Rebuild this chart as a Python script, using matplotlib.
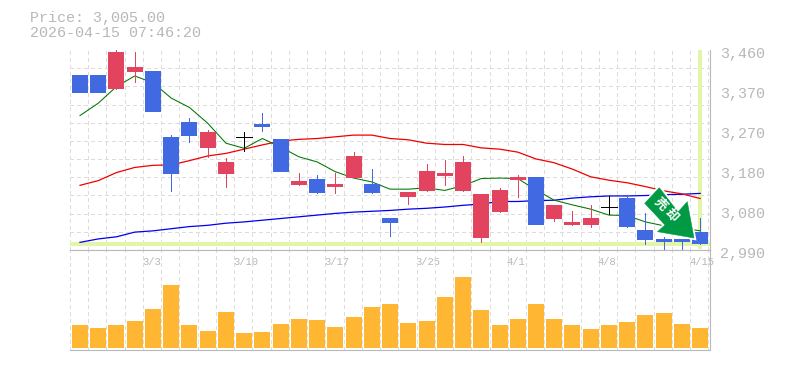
import numpy as np
import matplotlib
matplotlib.use("Agg")
import matplotlib.pyplot as plt
from matplotlib.patches import Polygon
from matplotlib.transforms import ScaledTranslation, IdentityTransform

opens = [3401,3401,3368,3408,3411,3256,3291,3230,3169,3255,3286,3251,3143,3157,3138,3159,3145,3065,3115,3129,3164,3129,3018,3079,3154,3162,3063,3049,3049,3091,3112,3037,3016,3016,3032]
highs = [3401,3401,3460,3455,3411,3260,3300,3272,3206,3267,3312,3251,3171,3166,3171,3220,3180,3065,3126,3192,3202,3211,3122,3136,3166,3162,3096,3082,3096,3117,3117,3077,3021,3016,3065]
lows = [3360,3360,3368,3385,3314,3129,3244,3209,3138,3223,3270,3173,3143,3124,3124,3159,3124,3023,3098,3129,3143,3129,3009,3079,3115,3049,3058,3049,3044,3075,3044,3004,2990,2990,3005]
closes = [3360,3360,3455,3420,3314,3169,3258,3267,3197,3255,3279,3173,3152,3124,3145,3211,3124,3053,3126,3176,3171,3197,3122,3131,3162,3049,3096,3056,3065,3091,3044,3013,3009,3009,3005]
ma_short = [3306,3335,3374,3399,3383,3347,3325,3288,3241,3229,3252,3232,3209,3197,3174,3159,3150,3133,3133,3136,3130,3141,3158,3159,3158,3131,3107,3096,3086,3072,3071,3056,3047,3042,3035]
ma_mid = [3142,3153,3172,3184,3189,3190,3200,3211,3217,3227,3237,3246,3250,3252,3256,3260,3260,3252,3249,3241,3238,3238,3230,3227,3220,3204,3195,3180,3162,3154,3148,3139,3129,3122,3111]
ma_long = [3008,3016,3021,3032,3035,3040,3045,3048,3053,3056,3060,3064,3068,3072,3076,3079,3081,3083,3086,3088,3091,3095,3098,3104,3104,3106,3107,3112,3115,3117,3117,3118,3120,3121,3123]
volumes = [23,20,23,27,39,63,23,17,36,15,16,24,29,28,21,31,41,44,25,27,51,71,38,23,29,44,29,23,19,23,26,33,35,24,20]
date_idx = [4,9,14,19,24,29,34]
date_labels = ["3/3","3/10","3/17","3/25","4/1","4/8","4/15"]
price_ticks = [3460,3366,3272,3178,3084,2990]
price_labels = ["3,460","3,370","3,270","3,180","3,080","2,990"]
current_price = 3005

GRAY = "#b8b8b8"; GRID = "#dddddd"; RED = "#e2445f"; BLUE = "#4169e1"
ORANGE = "#ffb733"; PALE = "#e2f5a8"; ARROW = "#009944"
MONO = ["Liberation Mono", "DejaVu Sans Mono"]

W, H = 785, 370
fig = plt.figure(figsize=(W/100, H/100), dpi=100, facecolor="white")
ax = fig.add_axes([70/W, (H-250)/H, 640/W, 200/H])
av = fig.add_axes([70/W, (H-350)/H, 640/W, 100/H])
xlim = (-0.548, 34.54)
px = 0.72
x = np.arange(len(opens))

for a in (ax, av):
    a.set_xlim(*xlim)
    a.set_facecolor("white")
    for s in a.spines.values():
        s.set_color(GRAY); s.set_linewidth(1.1*px)
    a.spines["left"].set_visible(False)
    a.spines["top"].set_visible(False)
    a.set_xticks(np.arange(36) - 0.548, minor=True)
    a.tick_params(which="both", length=0)
    a.grid(True, which="minor", axis="x", color=GRID, lw=1*px, ls=(0, (3, 3)), antialiased=False, zorder=1)
    a.set_axisbelow(True)
av.spines["top"].set_visible(True)

# price panel
ax.set_ylim(2990, 3460)
ax.set_yticks(np.linspace(2990, 3460, 12), minor=True)
ax.grid(True, which="minor", axis="y", color=GRID, lw=1*px, ls=(0, (3, 3)), antialiased=False, zorder=1)
ax.set_xticks([])
ax.set_xticks(np.arange(36) - 0.548, minor=True)
ax.yaxis.tick_right()
ax.set_yticks(price_ticks, price_labels, fontfamily=MONO, fontsize=10.8, color=GRAY)
ax.tick_params(axis="y", which="major", length=0, pad=7)
ax.tick_params(axis="x", which="both", labelbottom=False, length=0)
shift = ScaledTranslation(0, -2.6/100, fig.dpi_scale_trans)
for lab in ax.get_yticklabels():
    lab.set_transform(lab.get_transform() + shift)

ax.axhline(current_price, color=PALE, lw=4*px, zorder=2, solid_capstyle="butt")
ax.plot([34, 34], [3460, 2993], color=PALE, lw=4*px, zorder=2, solid_capstyle="butt")
ax.plot(x, ma_long, color="#0000ee", lw=1.25*px, zorder=3)
ax.plot(x, ma_mid, color="#ee0000", lw=1.25*px, zorder=3)
ax.plot(x, ma_short, color="#007700", lw=1.05*px, zorder=3)

for i in x:
    o, h, l, c = opens[i], highs[i], lows[i], closes[i]
    col = "black" if o == c else (RED if c > o else BLUE)
    if h > l and (h > max(o, c) or l < min(o, c) or o == c):
        ax.vlines(i, l, h, color=col, lw=1*px, zorder=4, antialiased=False)
    if o == c:
        ax.hlines(o, i-0.44, i+0.44, color=col, lw=1*px, zorder=4, antialiased=False)
    else:
        ax.bar(i, abs(c-o), bottom=min(o, c), width=0.877, color=col, lw=0, zorder=4, antialiased=False)

# signal arrow, placed in pixel coordinates
arrow_px = [(659.3,187.7),(644.7,203.3),(665,225),(657.5,231.7),(694,238),(687.3,201.7),(678,212)]
verts = [(a, H-b) for a, b in arrow_px]
fig.add_artist(Polygon(verts, closed=True, facecolor="white", edgecolor="white", lw=4*px,
                       transform=IdentityTransform(), zorder=7, clip_on=False))
fig.add_artist(Polygon(verts, closed=True, facecolor=ARROW, edgecolor=ARROW, lw=0.5*px,
                       transform=IdentityTransform(), zorder=8, clip_on=False))
for ch, (tx, ty) in zip("売却", [(660.7,204.3),(671.7,215)]):
    fig.text(tx/W, (H-ty)/H, ch, color="white", fontsize=9.2, fontweight="bold", rotation=-45,
             family=["Noto Sans CJK JP", "DejaVu Sans"], ha="center", va="center",
             rotation_mode="anchor", zorder=9)

# volume panel
av.set_ylim(-2, 98)
av.bar(x, volumes, width=0.877, color=ORANGE, lw=0, zorder=3, antialiased=False)
av.set_yticks([])
av.xaxis.tick_top()
av.set_xticks(date_idx, date_labels, fontfamily=MONO, fontsize=7.6, color=GRAY, ha="left", va="center")
av.tick_params(axis="x", which="major", length=0, pad=0)
av.tick_params(axis="x", which="minor", labeltop=False, labelbottom=False)
shift2 = ScaledTranslation(-11/100, -12/100, fig.dpi_scale_trans)
for lab in av.get_xticklabels():
    lab.set_transform(lab.get_transform() + shift2)
    lab.set_zorder(5)

fig.text(30/W, (H-18)/H, "Price: 3,005.00", family=MONO, fontsize=10.8, color=GRAY, va="center")
fig.text(30/W, (H-33)/H, "2026-04-15 07:46:20", family=MONO, fontsize=10.8, color=GRAY, va="center")

fig.savefig("out.png", dpi=100, facecolor="white")
